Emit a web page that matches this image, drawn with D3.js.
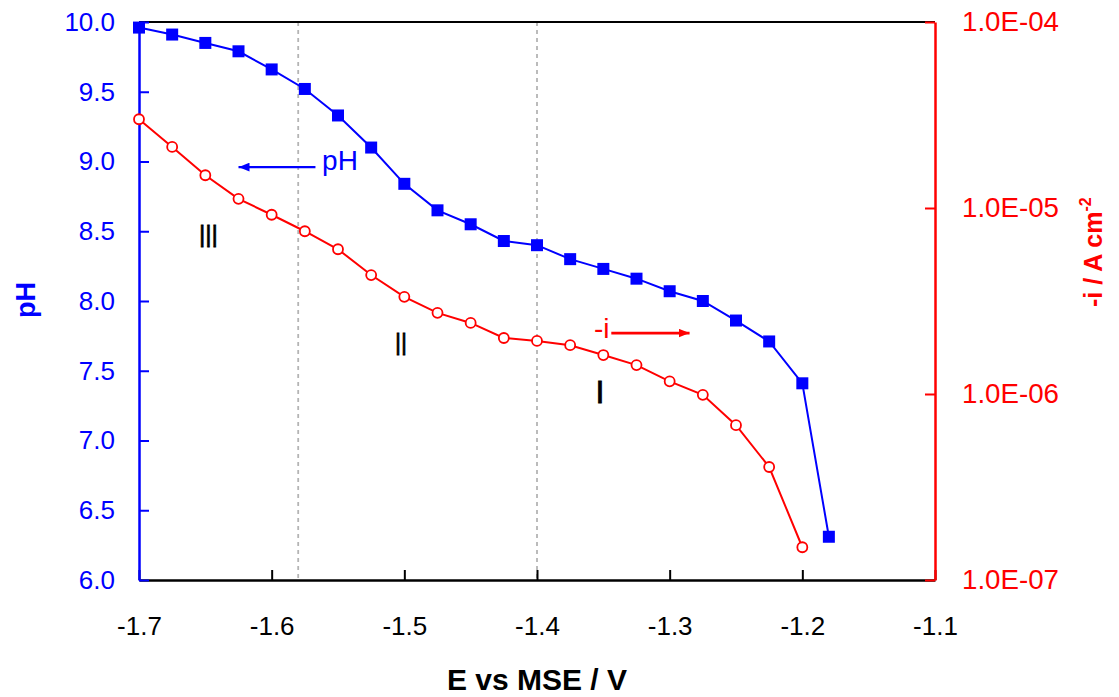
<!DOCTYPE html>
<html>
<head>
<meta charset="utf-8">
<script src="https://cdn.jsdelivr.net/npm/d3@7"></script>
<style>
  body { margin: 0; background: #fff; }
  text { font-family: "Liberation Sans", Arial, sans-serif; }
</style>
</head>
<body>
<svg id="chart" width="1119" height="697"></svg>
<script>
// data
const potential = [-1.7, -1.675, -1.65, -1.625, -1.6, -1.575, -1.55, -1.525, -1.5, -1.475, -1.45,
  -1.425, -1.4, -1.375, -1.35, -1.325, -1.3, -1.275, -1.25, -1.225, -1.2];
const phPotential = potential.concat([-1.18]);
const phValues = [9.96, 9.91, 9.85, 9.79, 9.66, 9.52, 9.33, 9.10, 8.84, 8.65, 8.55,
  8.43, 8.40, 8.30, 8.23, 8.16, 8.07, 8.00, 7.86, 7.71, 7.41, 6.31];
const currentValues = [3.0e-5, 2.13e-5, 1.5e-5, 1.12e-5, 9.2e-6, 7.5e-6, 6.0e-6, 4.36e-6, 3.33e-6,
  2.73e-6, 2.41e-6, 2.0e-6, 1.93e-6, 1.83e-6, 1.62e-6, 1.43e-6, 1.17e-6, 9.9e-7, 6.8e-7, 4.05e-7, 1.5e-7];
const xTicks = [-1.7, -1.6, -1.5, -1.4, -1.3, -1.2, -1.1];
const phTicks = [6.0, 6.5, 7.0, 7.5, 8.0, 8.5, 9.0, 9.5, 10.0];
const currentTicks = [1e-7, 1e-6, 1e-5, 1e-4];
const regionLines = [-1.58, -1.4];
const regionLabels = [
  { name: "III", e: -1.6477, ph: 8.39, len: 19 },
  { name: "II", e: -1.5026, ph: 7.61, len: 12 },
  { name: "I", e: -1.3526, ph: 7.27, len: 0 },
];

const blue = "#0000ff";
const red = "#ff0000";

const svg = d3.select("#chart");
const plot = { left: 139, right: 935, top: 22, bottom: 580 };

const x = d3.scaleLinear().domain([-1.7, -1.1]).range([plot.left, plot.right]);
const yPh = d3.scaleLinear().domain([6, 10]).range([plot.bottom, plot.top]);
const yI = d3.scaleLog().domain([1e-7, 1e-4]).range([plot.bottom, plot.top]);

// dashed region separators
svg.selectAll(".sep")
  .data(regionLines)
  .enter()
  .append("line")
  .attr("x1", d => x(d))
  .attr("x2", d => x(d))
  .attr("y1", plot.top)
  .attr("y2", plot.bottom)
  .attr("stroke", "#b4b4b4")
  .attr("stroke-width", 1.8)
  .attr("stroke-dasharray", "4,4");

// top frame
svg.append("line")
  .attr("x1", plot.left).attr("x2", plot.right)
  .attr("y1", plot.top).attr("y2", plot.top)
  .attr("stroke", "#000").attr("stroke-width", 2);

// x axis
const xAxis = svg.append("g")
  .attr("transform", `translate(0,${plot.bottom})`)
  .call(d3.axisBottom(x).tickValues(xTicks).tickSize(-10).tickSizeOuter(0).tickPadding(37));
xAxis.select(".domain").attr("stroke", "#000").attr("stroke-width", 2.5);
xAxis.selectAll(".tick line").attr("stroke", "#000").attr("stroke-width", 2);
xAxis.selectAll("text").attr("font-size", 26).attr("fill", "#000")
  .text(d => d3.format(".1f")(d).replace("−", "-"));

// left pH axis
const yAxisL = svg.append("g")
  .attr("transform", `translate(${plot.left},0)`)
  .call(d3.axisLeft(yPh).tickValues(phTicks).tickSize(-10).tickSizeOuter(0).tickPadding(24).tickFormat(d3.format(".1f")));
yAxisL.select(".domain").attr("stroke", blue).attr("stroke-width", 2.5);
yAxisL.selectAll(".tick line").attr("stroke", blue).attr("stroke-width", 2);
yAxisL.selectAll("text").attr("font-size", 26).attr("fill", blue);

// right current axis
const yAxisR = svg.append("g")
  .attr("transform", `translate(${plot.right},0)`)
  .call(d3.axisRight(yI).tickValues(currentTicks).tickSize(-10).tickSizeOuter(0).tickPadding(27)
    .tickFormat(d => "1.0E-" + String(-Math.round(Math.log10(d))).padStart(2, "0")));
yAxisR.select(".domain").attr("stroke", red).attr("stroke-width", 2.5);
yAxisR.selectAll(".tick line").attr("stroke", red).attr("stroke-width", 2);
yAxisR.selectAll("text").attr("font-size", 27).attr("fill", red)
  .attr("textLength", 97).attr("lengthAdjust", "spacingAndGlyphs");

// pH series
svg.append("path")
  .datum(phValues)
  .attr("fill", "none")
  .attr("stroke", blue)
  .attr("stroke-width", 2)
  .attr("d", d3.line().x((d, i) => x(phPotential[i])).y(d => yPh(d)));

svg.selectAll(".ph")
  .data(phValues)
  .enter()
  .append("rect")
  .attr("x", (d, i) => x(phPotential[i]) - 6)
  .attr("y", d => yPh(d) - 6)
  .attr("width", 12)
  .attr("height", 12)
  .attr("fill", blue);

// current series
svg.append("path")
  .datum(currentValues)
  .attr("fill", "none")
  .attr("stroke", red)
  .attr("stroke-width", 2)
  .attr("d", d3.line().x((d, i) => x(potential[i])).y(d => yI(d)));

svg.selectAll(".cur")
  .data(currentValues)
  .enter()
  .append("circle")
  .attr("cx", (d, i) => x(potential[i]))
  .attr("cy", d => yI(d))
  .attr("r", 5)
  .attr("fill", "#fff")
  .attr("stroke", red)
  .attr("stroke-width", 1.8);

// arrows
const defs = svg.append("defs");
[["arrowBlue", blue], ["arrowRed", red]].forEach(([id, c]) => {
  defs.append("marker")
    .attr("id", id)
    .attr("viewBox", "0 0 10 8")
    .attr("refX", 10).attr("refY", 4)
    .attr("markerUnits", "userSpaceOnUse")
    .attr("markerWidth", 11).attr("markerHeight", 9)
    .attr("orient", "auto")
    .append("path")
    .attr("d", "M0,0 L10,4 L0,8 z")
    .attr("fill", c);
});

svg.append("line")
  .attr("x1", x(-1.567)).attr("y1", yPh(8.96))
  .attr("x2", x(-1.625)).attr("y2", yPh(8.96))
  .attr("stroke", blue).attr("stroke-width", 2.4)
  .attr("marker-end", "url(#arrowBlue)");
svg.append("text")
  .attr("x", x(-1.562)).attr("y", yPh(8.94))
  .attr("font-size", 28).attr("fill", blue)
  .text("pH");

svg.append("text")
  .attr("x", x(-1.357)).attr("y", yPh(7.735))
  .attr("font-size", 28).attr("fill", red)
  .text("-i");
svg.append("line")
  .attr("x1", x(-1.344)).attr("y1", yPh(7.77))
  .attr("x2", x(-1.285)).attr("y2", yPh(7.77))
  .attr("stroke", red).attr("stroke-width", 2.6)
  .attr("marker-end", "url(#arrowRed)");

// region labels
svg.selectAll(".region")
  .data(regionLabels)
  .enter()
  .append("text")
  .attr("x", d => x(d.e) - (d.len ? d.len / 2 : 0))
  .attr("y", d => yPh(d.ph))
  .attr("text-anchor", d => (d.len ? "start" : "middle"))
  .attr("font-size", 32)
  .attr("fill", "#000")
  .attr("stroke", "#000")
  .attr("stroke-width", 0.8)
  .each(function(d) {
    if (d.len) {
      d3.select(this).attr("textLength", d.len).attr("lengthAdjust", "spacingAndGlyphs");
    }
  })
  .text(d => d.name);

// axis titles
svg.append("text")
  .attr("x", 537).attr("y", 690)
  .attr("text-anchor", "middle")
  .attr("font-size", 30).attr("font-weight", "bold")
  .text("E vs MSE / V");

svg.append("text")
  .attr("transform", "translate(35,300) rotate(-90)")
  .attr("text-anchor", "middle")
  .attr("font-size", 27).attr("font-weight", "bold")
  .attr("fill", blue)
  .text("pH");

const rt = svg.append("text")
  .attr("transform", "translate(1102,307) rotate(-90)")
  .attr("text-anchor", "start")
  .attr("font-size", 25).attr("font-weight", "bold")
  .attr("fill", red);
rt.append("tspan").text("-i / A cm");
rt.append("tspan").attr("dy", -11).attr("font-size", 16).text("-2");
</script>
</body>
</html>
